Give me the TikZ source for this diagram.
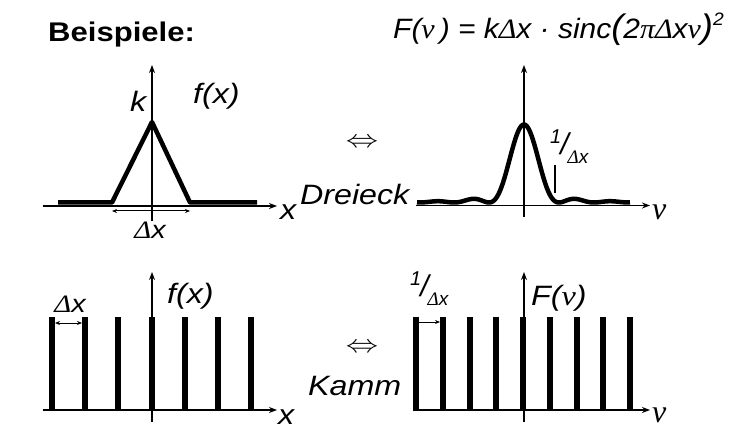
\documentclass[tikz,border=0pt]{standalone}
\usepackage{fontspec}
\setmainfont{Liberation Sans}
\newfontfamily\gr{Liberation Serif}
\usepackage{graphicx}
\usetikzlibrary{arrows.meta}
\tikzset{
  axis/.style={line width=1.5pt,-{Stealth[length=8pt,width=6pt]}},
  thickcurve/.style={line width=4.5pt,line join=round},
  spike/.style={line width=6pt},
  dimboth/.style={line width=1pt,{Stealth[length=5pt,width=4pt]}-{Stealth[length=5pt,width=4pt]}},
  dimone/.style={line width=1pt,-{Stealth[length=5pt,width=4pt]}},
  lbl/.style={font=\fontsize{28}{30}\selectfont\itshape, inner sep=0pt, anchor=base west},
  smlbl/.style={font=\fontsize{25}{27}\selectfont\itshape, inner sep=0pt, anchor=base},
  nulbl/.style={font=\fontsize{32}{34}\selectfont\gr\itshape, inner sep=0pt, anchor=base west},
  equiv/.style={inner sep=0pt},
}
\newcommand{\wx}[1]{\scalebox{1.15}[1]{#1}}
\newcommand{\recip}{\raisebox{11pt}{\fontsize{20}{20}\selectfont 1}\kern-1pt{\fontsize{30}{30}\selectfont/}\kern-1pt\raisebox{-9pt}{\fontsize{19}{19}\selectfont{\gr Δ}x}}
\newcommand{\eqv}{\fontsize{25}{25}\selectfont\scalebox{1.3}[1]{$\Leftrightarrow$}}
\begin{document}
\begin{tikzpicture}[x=1pt,y=-1pt]
\useasboundingbox (0,0) rectangle (746,430);
\fill[white] (0,0) rectangle (746,430);

% ---------- titles ----------
\node[font=\fontsize{27}{30}\selectfont\bfseries, inner sep=0pt, anchor=base west] (title) at (48,42) {\wx{Beispiele:}};
\node[font=\fontsize{28}{30}\selectfont\itshape, inner sep=0pt, anchor=base west] (formula) at (393,39) {\scalebox{1.07}[1]{F({\gr ν}\,) = k{\gr Δ}x · sinc{\fontsize{34}{34}\selectfont(}2{\gr πΔ}x{\gr ν}{\fontsize{34}{34}\selectfont)}\raisebox{13pt}{\fontsize{18}{18}\selectfont 2}}};

% ---------- top left: triangle ----------
\coordinate (tlxa) at (43,206);
\coordinate (tlxb) at (277,206);
\coordinate (tlya) at (152,221);
\coordinate (tlyb) at (152,65);
\draw[axis] (tlxa) -- (tlxb);
\draw[axis] (tlya) -- (tlyb);
\coordinate (t0) at (58,202.5);
\coordinate (t1) at (112,202.5);
\coordinate (t2) at (152,122);
\coordinate (t3) at (190,202.5);
\coordinate (t4) at (257,202.5);
\draw[thickcurve] (t0) -- (t1) -- (t2) -- (t3) -- (t4);
\coordinate (tda) at (112,211);
\coordinate (tdb) at (190,211);
\draw[dimboth] (tda) -- (tdb);
\node[smlbl] (tldx) at (150,238) {\wx{{\gr Δ}x}};
\node[lbl] (tlk) at (130,112) {\wx{k}};
\node[lbl] (tlf) at (193,104) {\wx{f(x)}};
\node[lbl] (tlx) at (280,219) {\wx{x}};

% ---------- middle texts ----------
\node[equiv] (eq1) at (362,143) {\eqv};
\node[lbl] (dreieck) at (300,205) {\wx{Dreieck}};
\node[equiv] (eq2) at (362,348) {\eqv};
\node[lbl] (kamm) at (308,395) {\wx{Kamm}};

% ---------- top right: sinc^2 ----------
\coordinate (trxa) at (416,205.5);
\coordinate (trxb) at (650,205.5);
\coordinate (trya) at (524,217);
\coordinate (tryb) at (524,65);
\draw[axis] (trxa) -- (trxb);
\draw[axis] (trya) -- (tryb);
\draw[thickcurve] plot[domain=-3.057:3.03, samples=200, smooth]
  ({524+35*\x},{202.5-78*(sin(180*\x)/(pi*\x))*(sin(180*\x)/(pi*\x))});
\coordinate (tka) at (555,165);
\coordinate (tkb) at (555,193);
\draw[line width=1.8pt] (tka) -- (tkb);
\node[inner sep=0pt, anchor=base west, font=\itshape] (trrec) at (550,155) {\recip};
\node[nulbl] (trnu) at (652,220) {ν};

% ---------- bottom left: comb ----------
\coordinate (blxa) at (43,410);
\coordinate (blxb) at (277,410);
\coordinate (blya) at (152,422);
\coordinate (blyb) at (152,272);
\draw[axis] (blxa) -- (blxb);
\draw[axis] (blya) -- (blyb);
\foreach \i in {0,...,6} {
  \draw[spike] ({52+33.2*\i},410) -- ({52+33.2*\i},317);
}
\coordinate (bda) at (55,323);
\coordinate (bdb) at (82,323);
\draw[dimboth] (bda) -- (bdb);
\node[smlbl] (bldx) at (70,312) {\wx{{\gr Δ}x}};
\node[lbl] (blf) at (167,303) {\wx{f(x)}};
\node[lbl] (blx) at (278,424) {\wx{x}};

% ---------- bottom right: comb ----------
\coordinate (brxa) at (413,410);
\coordinate (brxb) at (650,410);
\coordinate (brya) at (524,422);
\coordinate (bryb) at (524,272);
\draw[axis] (brxa) -- (brxb);
\draw[axis] (brya) -- (bryb);
\foreach \i in {0,...,8} {
  \draw[spike] ({416+26.75*\i},410) -- ({416+26.75*\i},317);
}
\coordinate (brda) at (419,322);
\coordinate (brdb) at (440,322);
\draw[dimone] (brda) -- (brdb);
\node[inner sep=0pt, anchor=base west, font=\itshape] (brrec) at (410,296) {\recip};
\node[lbl] (brF) at (531,305) {\wx{F({\gr ν})}};
\node[nulbl] (brnu) at (652,422) {ν};
\end{tikzpicture}
\end{document}
